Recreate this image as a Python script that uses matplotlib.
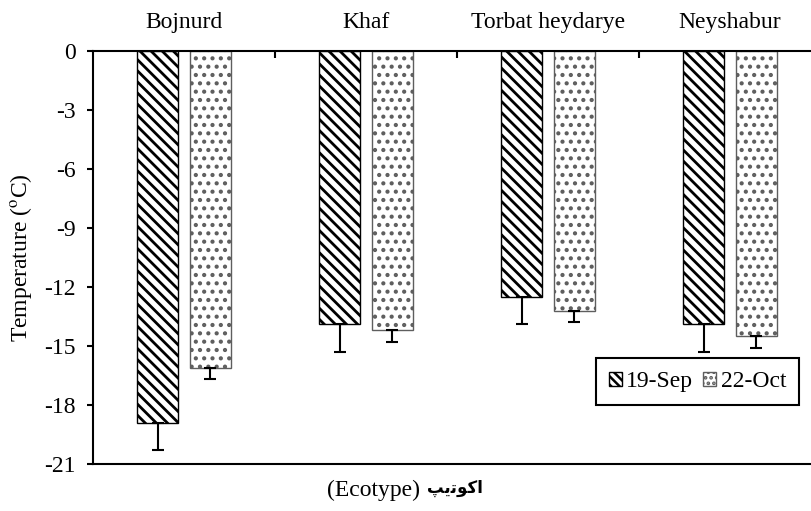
import numpy as np
import matplotlib
matplotlib.use("Agg")
import matplotlib.pyplot as plt
from matplotlib.patches import Patch

# data
ecotypes = ["Bojnurd", "Khaf", "Torbat heydarye", "Neyshabur"]
series = ["19-Sep", "22-Oct"]
sep_vals = [-18.9, -13.9, -12.5, -13.9]
sep_err = [1.4, 1.4, 1.4, 1.4]
oct_vals = [-16.1, -14.2, -13.2, -14.5]
oct_err = [0.6, 0.6, 0.6, 0.6]
yticks = [0, -3, -6, -9, -12, -15, -18, -21]

plt.rcParams['font.family'] = ['Liberation Serif']
plt.rcParams['mathtext.fontset'] = 'stix'
fs = 17

fig = plt.figure(figsize=(8.12, 5.11), dpi=100)
ax = fig.add_axes([93 / 812, 47 / 511, 728 / 812, 413 / 511])

x = np.arange(len(ecotypes))
w = 0.225
off = 0.143

# hatch linewidth is picked up when the patch is made
plt.rcParams['hatch.linewidth'] = 2.0
b1 = ax.bar(x - off, sep_vals, w, color='white', edgecolor='black', hatch='\\\\\\', linewidth=1.0)
leg_sep = Patch(facecolor='white', edgecolor='black', hatch='\\\\\\\\')
plt.rcParams['hatch.linewidth'] = 1.8
b2 = ax.bar(x + off, oct_vals, w, color='white', edgecolor='#5e5e5e', hatch='..', linewidth=1.0)
leg_oct = Patch(facecolor='white', edgecolor='#5e5e5e', hatch='...')

zeros = np.zeros(len(ecotypes))
ax.errorbar(x - off, sep_vals, yerr=[sep_err, zeros], fmt='none', ecolor='black',
            elinewidth=1.5, capsize=4.5, capthick=1.5)
ax.errorbar(x + off, oct_vals, yerr=[oct_err, zeros], fmt='none', ecolor='black',
            elinewidth=1.5, capsize=4.5, capthick=1.5)

ax.set_xlim(-0.5, 3.5)
ax.set_ylim(-21, 0)
ax.set_yticks(yticks)
ax.set_yticklabels([str(v) for v in yticks])
ax.tick_params(axis='y', direction='out', length=4.5, width=1.5, pad=8, labelsize=fs)

ax.xaxis.tick_top()
ax.set_xticks(x)
ax.set_xticklabels(ecotypes)
ax.set_xticks([0.5, 1.5, 2.5], minor=True)
ax.tick_params(axis='x', which='major', length=0, pad=13, labelsize=fs)
ax.tick_params(axis='x', which='minor', direction='in', length=5, width=1.5)

for s in ax.spines.values():
    s.set_linewidth(1.5)

ax.set_ylabel("Temperature ($^{\\mathrm{o}}$C)", fontsize=fs, labelpad=7)

# x label: english part + persian part (pre-shaped, visual order)
fig.text(420 / 812, 1 - 490 / 511, "(Ecotype)", fontsize=fs, ha='right', va='center')
persian = "\uFB57\uFBFE\uFE97\uFEEE\uFB90\uFE8D"
fig.text(427 / 812, 1 - 488 / 511, persian, fontsize=12, ha='left', va='center',
         family='DejaVu Sans', fontweight='bold')

leg = ax.legend([leg_sep, leg_oct], series, ncol=2, loc='lower right',
                bbox_to_anchor=(799 / 812, 1 - 405 / 511), bbox_transform=fig.transFigure,
                borderaxespad=0, fontsize=fs, fancybox=False, handlelength=0.55,
                handleheight=0.55, handletextpad=0.2, columnspacing=0.4,
                borderpad=0.55, framealpha=1)
leg.get_frame().set_edgecolor('black')
leg.get_frame().set_linewidth(1.5)

fig.savefig("out.png", dpi=100)
